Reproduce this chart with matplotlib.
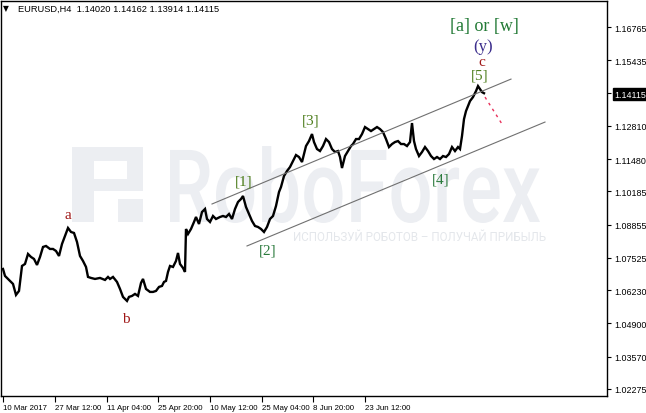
import matplotlib
matplotlib.use("Agg")
import matplotlib.pyplot as plt
from matplotlib.textpath import TextPath
from matplotlib.patches import PathPatch, Rectangle
from matplotlib.font_manager import FontProperties
from matplotlib.transforms import Affine2D

# EURUSD H4, close prices (x = bar index)
bars = [0, 2, 5, 7, 10, 13, 16, 19, 22, 25, 28, 31, 34, 37, 40, 43, 47, 50, 53, 56,
        59, 62, 65, 68, 71, 74, 77, 80, 83, 85, 88, 92, 97, 102, 105, 107, 110, 114, 117, 120,
        124, 126, 129, 132, 135, 138, 140, 143, 147, 150, 153, 156, 159, 161, 163, 165, 167, 170, 173, 175,
        177, 180, 182, 183, 185, 188, 191, 193, 196, 199, 202, 204, 207, 210, 213, 217, 220, 223, 226, 229,
        232, 235, 238, 240, 243, 246, 249, 252, 255, 258, 261, 264, 267, 270, 273, 276, 278, 281, 284, 287,
        290, 293, 296, 299, 301, 303, 306, 309, 311, 314, 317, 320, 323, 326, 329, 332, 335, 337, 339, 342,
        345, 348, 350, 353, 356, 359, 362, 365, 368, 371, 374, 377, 380, 383, 386, 389, 392, 395, 398, 401,
        404, 407, 409, 411, 413, 416, 419, 422, 425, 428, 431, 434, 437, 440, 443, 446, 449, 452, 455, 457,
        459, 461, 463, 465, 467, 470, 473, 475, 477, 479, 481]
close = [1.0708, 1.0680, 1.0668, 1.0660, 1.0648, 1.0604, 1.0620, 1.0720, 1.0728, 1.0768,
         1.0756, 1.0748, 1.0724, 1.0756, 1.0796, 1.0800, 1.0788, 1.0788, 1.0780, 1.0760,
         1.0808, 1.0840, 1.0872, 1.0856, 1.0852, 1.0816, 1.0760, 1.0740, 1.0716, 1.0676,
         1.0672, 1.0668, 1.0672, 1.0664, 1.0676, 1.0668, 1.0676, 1.0656, 1.0628, 1.0596,
         1.0580, 1.0596, 1.0600, 1.0608, 1.0600, 1.0652, 1.0668, 1.0628, 1.0616, 1.0616,
         1.0620, 1.0636, 1.0640, 1.0656, 1.0660, 1.0696, 1.0720, 1.0716, 1.0740, 1.0772,
         1.0728, 1.0712, 1.0696, 1.0868, 1.0848, 1.0868, 1.0896, 1.0916, 1.0888, 1.0936,
         1.0948, 1.0908, 1.0896, 1.0920, 1.0908, 1.0916, 1.0920, 1.0916, 1.0928, 1.0908,
         1.0948, 1.0976, 1.0988, 1.1000, 1.0956, 1.0928, 1.0900, 1.0880, 1.0876, 1.0868,
         1.0856, 1.0876, 1.0908, 1.0920, 1.0960, 1.1016, 1.1036, 1.1080, 1.1100, 1.1116,
         1.1140, 1.1164, 1.1156, 1.1136, 1.1168, 1.1200, 1.1220, 1.1248, 1.1216, 1.1188,
         1.1180, 1.1200, 1.1228, 1.1216, 1.1188, 1.1176, 1.1180, 1.1156, 1.1112, 1.1160,
         1.1180, 1.1200, 1.1208, 1.1228, 1.1228, 1.1248, 1.1276, 1.1268, 1.1260, 1.1268,
         1.1276, 1.1268, 1.1256, 1.1228, 1.1196, 1.1208, 1.1216, 1.1220, 1.1208, 1.1208,
         1.1200, 1.1216, 1.1292, 1.1220, 1.1188, 1.1160, 1.1176, 1.1196, 1.1180, 1.1160,
         1.1148, 1.1156, 1.1148, 1.1160, 1.1156, 1.1168, 1.1196, 1.1180, 1.1196, 1.1188,
         1.1240, 1.1308, 1.1340, 1.1360, 1.1380, 1.1396, 1.1420, 1.1440, 1.1428, 1.1416,
         1.14115]

date_ticks = [0, 52, 104, 155, 207, 259, 310, 362]
date_labels = ['10 Mar 2017', '27 Mar 12:00', '11 Apr 04:00', '25 Apr 20:00',
               '10 May 12:00', '25 May 04:00', '8 Jun 20:00', '23 Jun 12:00']
price_ticks = [1.16765, 1.15435, 1.14115, 1.12810, 1.11480, 1.10185,
               1.08855, 1.07525, 1.06230, 1.04900, 1.03570, 1.02275]
last_price = 1.14115

# channel lines and forecast
upper_x, upper_y = [209, 508], [1.0968, 1.1468]
lower_x, lower_y = [244, 542], [1.0800, 1.1296]
fc_x, fc_y = [482, 499], [1.1396, 1.1288]

# wave labels: text, bar, price, colour, size
waves = [
    ('a', 65, 1.0926, '#a01818', 11),
    ('b', 123, 1.0508, '#a01818', 11),
    ('[1]', 241, 1.1060, '#4f7f1e', 11),
    ('[2]', 265, 1.0784, '#2a7a3c', 11),
    ('[3]', 308, 1.1304, '#4f7f1e', 11),
    ('[4]', 438, 1.1068, '#2a7a3c', 11),
    ('[5]', 477, 1.1484, '#4f7f1e', 11),
    ('c', 479, 1.1540, '#a01818', 11),
    ('(y)', 480, 1.1600, '#3b2d8c', 12),
    ('[a] or [w]', 481, 1.1681, '#237a36', 13),
]

W, H = 646, 414
fig = plt.figure(figsize=(W / 100, H / 100), dpi=100)
ax = fig.add_axes([1 / W, 17 / H, 606 / W, 395 / H])
ax.set_facecolor('none')

# RoboForex watermark (pixel coordinates)
wm = '#eceef2'
fp = FontProperties(family='Roboto', weight='medium')
tp = TextPath((0, 0), 'RoboForex', size=100, prop=fp)
bb = tp.get_extents()
tr = Affine2D().translate(-bb.x0, 0).scale(370 / bb.width, 76 / bb.y1).translate(170, H - 223)
fig.add_artist(PathPatch(tp, transform=tr, facecolor=wm, edgecolor='none', zorder=-5))
for x0, y0, w, h in [(72, 148, 22, 75), (72, 148, 71, 14), (127, 148, 16, 44),
                     (94, 180, 49, 12), (118, 200, 25, 23)]:
    fig.add_artist(Rectangle((x0, H - y0 - h), w, h, transform=Affine2D(),
                             facecolor=wm, edgecolor='none', zorder=-5))
fig.text(293 / W, (H - 238) / H, 'ИСПОЛЬЗУЙ РОБОТОВ – ПОЛУЧАЙ ПРИБЫЛЬ', fontsize=8.4,
         family='Roboto', color='#e4e7eb', ha='left', va='center', zorder=-5)

ax.plot(bars, close, color='black', lw=1.7, solid_joinstyle='miter')
ax.plot(upper_x, upper_y, color='#707070', lw=0.8)
ax.plot(lower_x, lower_y, color='#707070', lw=0.8)
ax.plot(fc_x, fc_y, color='#e8305a', lw=1, linestyle=(0, (2, 3)))

for txt, bx, py, col, fs in waves:
    ax.text(bx, py, txt, color=col, fontsize=fs, family='Liberation Serif',
            ha='center', va='center')

ax.set_xlim(-2, 604)
ax.set_ylim(1.01994, 1.17806)

ax.yaxis.tick_right()
ax.set_yticks(price_ticks)
ax.set_yticklabels(['%.5f' % p for p in price_ticks])
ax.set_xticks(date_ticks)
ax.set_xticklabels(date_labels)
ax.tick_params(axis='y', direction='out', length=3, width=0.8, pad=2, labelsize=6.4)
ax.tick_params(axis='x', direction='out', length=4, width=0.8, pad=1.5, labelsize=5.7)
for lbl in ax.get_yticklabels() + ax.get_xticklabels():
    lbl.set_family('Liberation Sans')
for lbl in ax.get_xticklabels():
    lbl.set_ha('left')
for lbl in ax.get_yticklabels():
    if lbl.get_text() == '%.5f' % last_price:
        lbl.set_color('white')
        lbl.set_bbox(dict(facecolor='black', edgecolor='black', pad=1.0))
for s in ax.spines.values():
    s.set_linewidth(1)
    s.set_color('black')

fig.text(3 / W, (H - 9) / H, '▼', fontsize=5.5, family='DejaVu Sans', va='center')
fig.text(18 / W, (H - 9) / H, 'EURUSD,H4  1.14020 1.14162 1.13914 1.14115', fontsize=6.7,
         family='Liberation Sans', va='center')

fig.savefig('out.png', dpi=100, facecolor='white')
